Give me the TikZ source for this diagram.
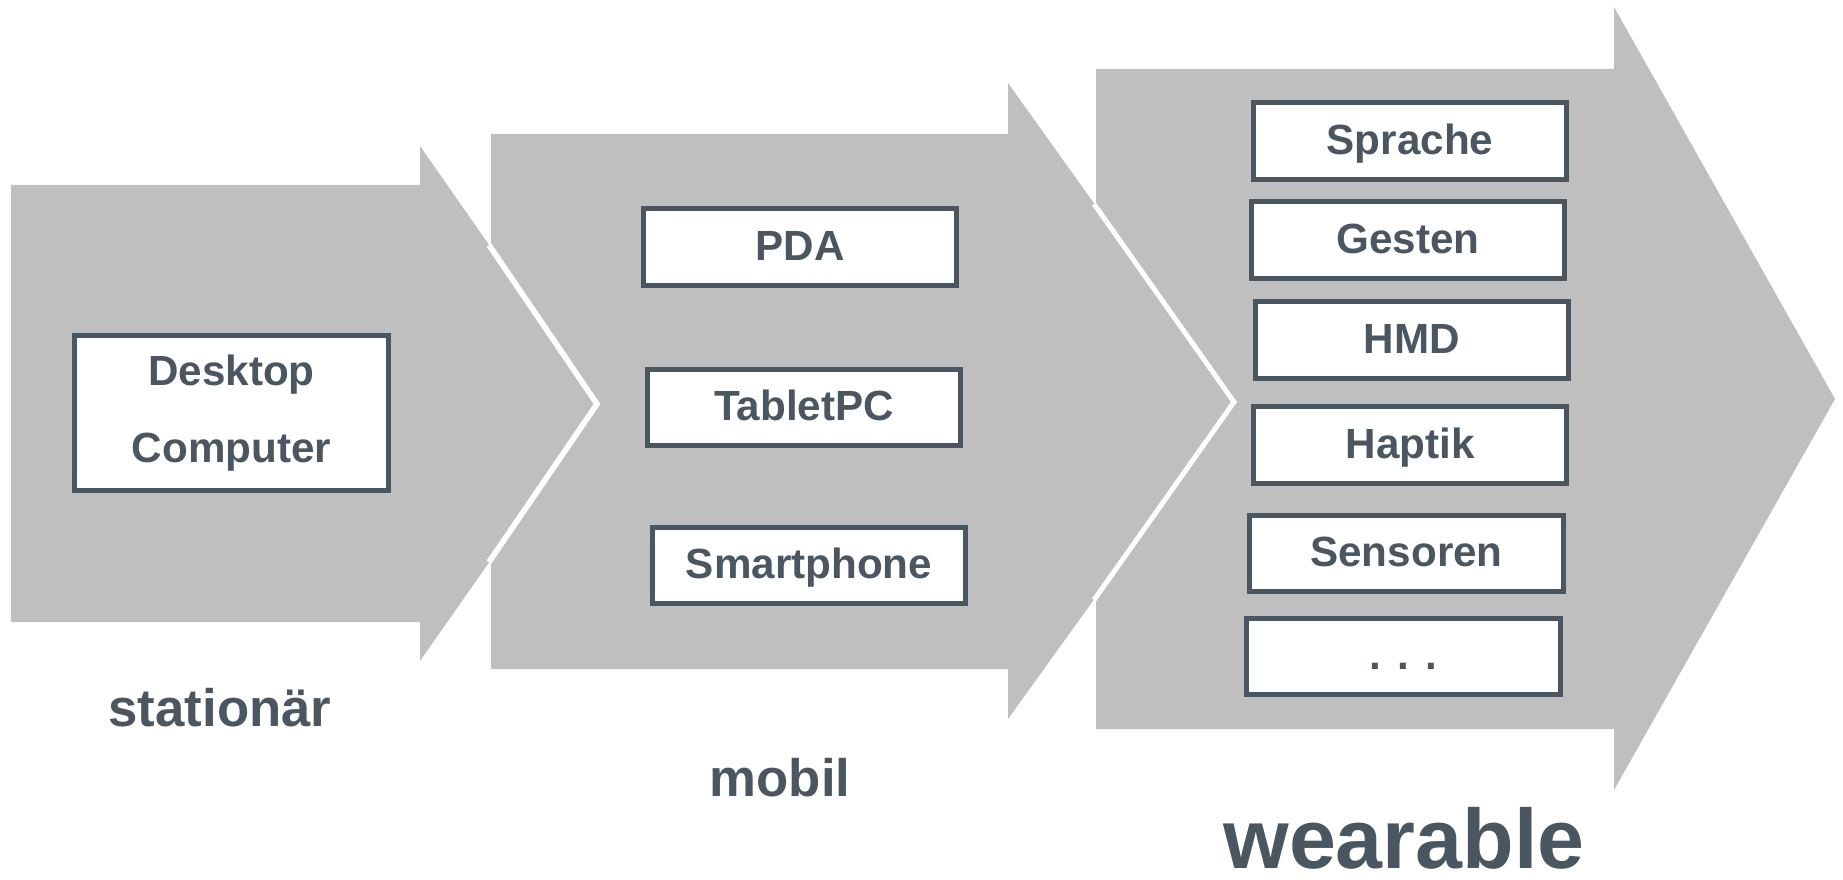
\documentclass[tikz,border=0pt]{standalone}
\usepackage{fontspec}
\setmainfont{Liberation Sans}
\usepackage{tikz}

\definecolor{slate}{HTML}{4A5761}
\definecolor{arrowgray}{HTML}{BFBFBF}

\begin{document}
\begin{tikzpicture}[x=0.01cm, y=-0.01cm,
  box/.style={draw=slate, line width=1.42pt, fill=white, text=slate, font=\bfseries\fontsize{12}{22}\selectfont, minimum width=3.13cm, minimum height=0.76cm, inner sep=0pt, align=center},
  item/.style={box, text height=0.35cm, text depth=0.09cm},
  phase/.style={text=slate, font=\bfseries\fontsize{15}{18}\selectfont, anchor=base, inner sep=0pt}]

\useasboundingbox (0,0) rectangle (1843,879);

\fill[arrowgray] (11,185) -- (420,185) -- (420,146) -- (600,404) -- (420,661) -- (420,622) -- (11,622) -- cycle;

\fill[arrowgray] (491,134) -- (1008,134) -- (1008,83) -- (1236,402) -- (1008,719) -- (1008,669) -- (491,669) -- (491,559) -- (600,404) -- (491,248) -- cycle;
\draw[white, line width=1.6pt] (489,245) -- (597,404) -- (489,562);

\fill[arrowgray] (1096,69) -- (1614,69) -- (1614,7) -- (1835,399) -- (1614,790) -- (1614,729) -- (1096,729) -- (1096,597) -- (1236,402) -- (1096,207) -- cycle;
\draw[white, line width=1.4pt] (1094,204) -- (1234,402) -- (1094,600);

\node[box, minimum height=1.54cm] (desktop) at (231.5,413) {Desktop\\Computer};

\node[item] (pda) at (800,247) {PDA};
\node[item] (tablet) at (804,407.5) {TabletPC};
\node[item] (smartphone) at (809,565.5) {Smartphone};

\node[item] (sprache) at (1410,141) {Sprache};
\node[item] (gesten) at (1408,240) {Gesten};
\node[item] (hmd) at (1412,340) {HMD};
\node[item] (haptik) at (1410,445) {Haptik};
\node[item] (sensoren) at (1406.5,553.5) {Sensoren};
\node[item] (more) at (1403.5,656.5) {.\hspace{0.16cm}.\hspace{0.16cm}.};

\node[phase] (stationaer) at (220,726) {stationär};
\node[phase] (mobil) at (780,796) {mobil};
\node[phase, font=\bfseries\fontsize{24}{28}\selectfont] (wearable) at (1404,868) {wearable};

\end{tikzpicture}
\end{document}
